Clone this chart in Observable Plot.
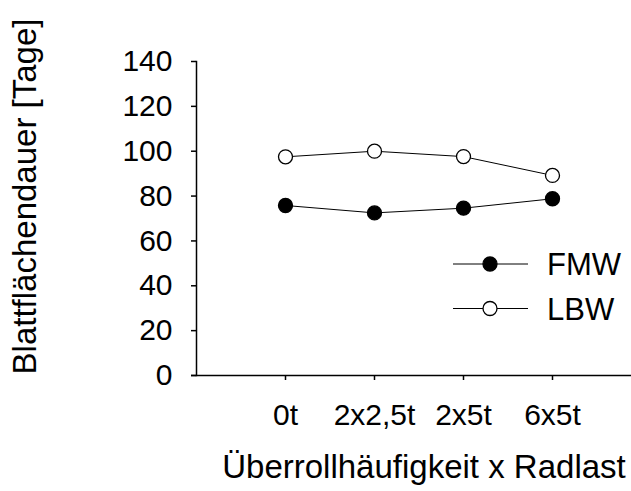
<!DOCTYPE html>
<html><head><meta charset="utf-8">
<script src="https://cdn.jsdelivr.net/npm/d3@7"></script>
<script src="https://cdn.jsdelivr.net/npm/@observablehq/plot@0.6"></script>
<style>body{margin:0;background:#fff} #wrap{position:relative;width:631px;height:491px}</style>
</head><body><div id="wrap"></div>
<script>
const categories = ["0t", "2x2,5t", "2x5t", "6x5t"];
const fmwValues = [75.8, 72.5, 74.6, 78.8];
const lbwValues = [97.5, 100, 97.6, 89.2];
const seriesNames = ["FMW", "LBW"];
const seriesFills = ["black", "white"];
const yTicks = [0, 20, 40, 60, 80, 100, 120, 140];
const xTitle = "Überrollhäufigkeit x Radlast";
const yTitle = "Blattflächendauer [Tage]";

const valuesBySeries = [fmwValues, lbwValues];
const rows = seriesNames.flatMap((s, si) =>
  categories.map((c, i) => ({cat: c, value: valuesBySeries[si][i], series: s, fill: seriesFills[si]})));

const font = "'Liberation Sans', Arial, sans-serif";
const chart = Plot.plot({
  width: 631, height: 491,
  marginLeft: 196, marginRight: 0, marginTop: 61, marginBottom: 116,
  style: {fontFamily: font, fontSize: "30px", color: "black", background: "white"},
  x: {type: "point", domain: categories, padding: 0.925, align: 0.53},
  y: {domain: [0, 140]},
  marks: [
    Plot.frame({anchor: "left", stroke: "black", strokeWidth: 1.5}),
    Plot.ruleY([0], {stroke: "black", strokeWidth: 1.5, insetLeft: -5}),
    Plot.axisY({ticks: yTicks, tickSize: 5, tickPadding: 19, label: null, fontSize: 30, strokeWidth: 1.5}),
    Plot.axisX({tickSize: 5, tickPadding: 23, label: null, fontSize: 30, strokeWidth: 1.5}),
    Plot.line(rows, {x: "cat", y: "value", z: "series", stroke: "black", strokeWidth: 1}),
    Plot.dot(rows, {x: "cat", y: "value", r: 7, fill: "fill", stroke: "black", strokeWidth: 1.3}),
    Plot.text([xTitle], {frameAnchor: "bottom", textAnchor: "middle", dy: 102, dx: 10, fontSize: 33}),
    Plot.text([yTitle], {frameAnchor: "left", textAnchor: "middle", rotate: -90, dx: -171, dy: -22, fontSize: 33})
  ]
});
const wrap = document.getElementById("wrap");
wrap.appendChild(chart);

// legend overlay
const leg = d3.select(wrap).append("svg")
  .attr("width", 631).attr("height", 491)
  .style("position", "absolute").style("left", "0px").style("top", "0px");
seriesNames.forEach((s, i) => {
  const y = 264 + i * 44.5;
  const g = leg.append("g");
  g.append("line").attr("x1", 453).attr("x2", 528).attr("y1", y).attr("y2", y).attr("stroke", "black").attr("stroke-width", 1);
  g.append("circle").attr("cx", 490).attr("cy", y).attr("r", 7).attr("fill", seriesFills[i]).attr("stroke", "black").attr("stroke-width", 1.3);
  g.append("text").attr("x", 547).attr("y", y).attr("dy", "0.36em").attr("font-family", font).attr("font-size", 31).text(s);
});
</script>
</body></html>
